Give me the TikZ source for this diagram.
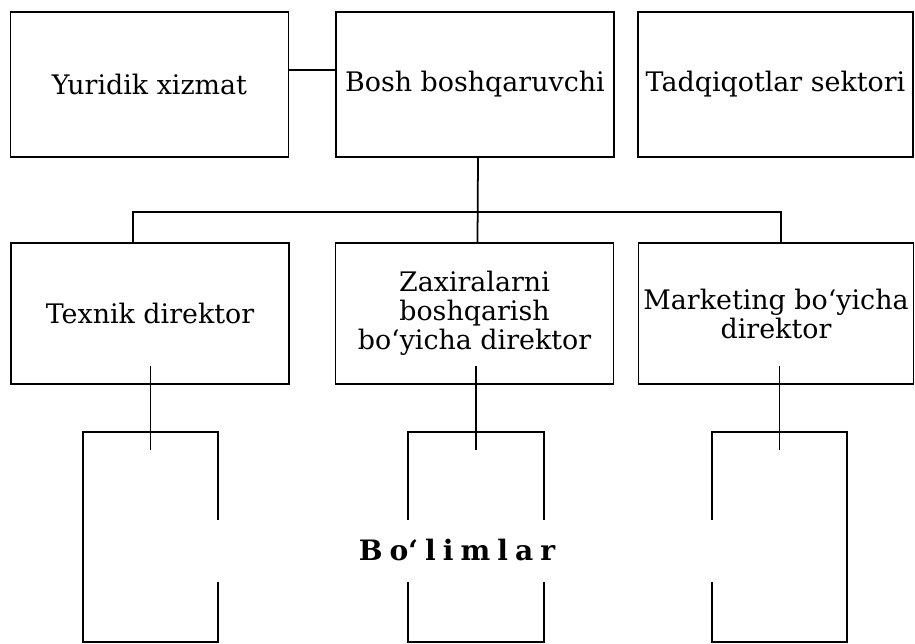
\documentclass[tikz,border=0pt]{standalone}
\usepackage{fontspec}
\setmainfont{DejaVu Serif}
\newcommand\lsp{\kern4pt}
\begin{document}
\begin{tikzpicture}[
    unit/.style={draw, line width=1pt, align=center, inner sep=1pt,
      font=\fontsize{15.3}{16.5}\selectfont},
    toprow/.style={unit, minimum width=5.56cm, minimum height=2.9cm},
    midrow/.style={unit, minimum width=5.56cm, minimum height=2.82cm},
    dept/.style={minimum width=2.7cm, minimum height=4.2cm, inner sep=0pt},
    link/.style={line width=1pt}]
  \useasboundingbox (0,0) rectangle (18.3,-12.86);

  \node[toprow] (yur) at (2.99,-1.69) {Yuridik xizmat};
  \node[toprow] (bosh) at (9.5,-1.69) {Bosh boshqaruvchi};
  \node[toprow, minimum width=5.5cm] (tad) at (15.51,-1.69) {Tadqiqotlar sektori};

  \node[midrow] (tex) at (3.0,-6.27) {Texnik direktor};
  \node[midrow] (zax) at (9.49,-6.27) {Zaxiralarni\\ boshqarish\\ bo‘yicha direktor};
  \node[midrow, minimum width=5.5cm] (mar) at (15.52,-6.27) {Marketing bo‘yicha\\ direktor};

  \node[dept] (dep1) at (3.01,-10.74) {};
  \node[dept] (dep2) at (9.52,-10.74) {};
  \node[dept] (dep3) at (15.59,-10.74) {};

  \node[font=\fontsize{16}{19}\selectfont\bfseries]
    (bol) at (9.14,-11.0) {B\lsp o‘\lsp l\lsp i\lsp m\lsp l\lsp a\lsp r};

  \coordinate (bus) at (0,-4.24);

  \draw[link] ([yshift=0.29cm]yur.east) -- ([yshift=0.29cm]bosh.west);
  \draw[link] ([xshift=0.06cm]bosh.south) -- ([xshift=0.06cm]zax.north);
  \draw[link] ([xshift=-0.34cm]tex.north) |- (bus -| zax.north)
    -| ([xshift=0.1cm]mar.north);

  \draw[link] (tex.south -| dep1.north) ++(0,0.38) -- ([yshift=-0.36cm]dep1.north);
  \draw[link] (zax.south -| dep2.north) ++(0,0.38) -- ([yshift=-0.36cm]dep2.north);
  \draw[link] (mar.south -| dep3.north) ++(0,0.38) -- ([yshift=-0.36cm]dep3.north);

  \draw[link] ([yshift=1.2cm]dep1.south east) -- (dep1.south east)
    -- (dep1.south west) -- (dep1.north west) -- (dep1.north east)
    -- ([yshift=-1.76cm]dep1.north east);
  \draw[link] ([yshift=-1.76cm]dep2.north west) -- (dep2.north west)
    -- (dep2.north east) -- ([yshift=-1.76cm]dep2.north east);
  \draw[link] ([yshift=1.2cm]dep2.south west) -- (dep2.south west)
    -- (dep2.south east) -- ([yshift=1.2cm]dep2.south east);
  \draw[link] ([yshift=-1.76cm]dep3.north west) -- (dep3.north west)
    -- (dep3.north east) -- (dep3.south east) -- (dep3.south west)
    -- ([yshift=1.2cm]dep3.south west);

\end{tikzpicture}
\end{document}
